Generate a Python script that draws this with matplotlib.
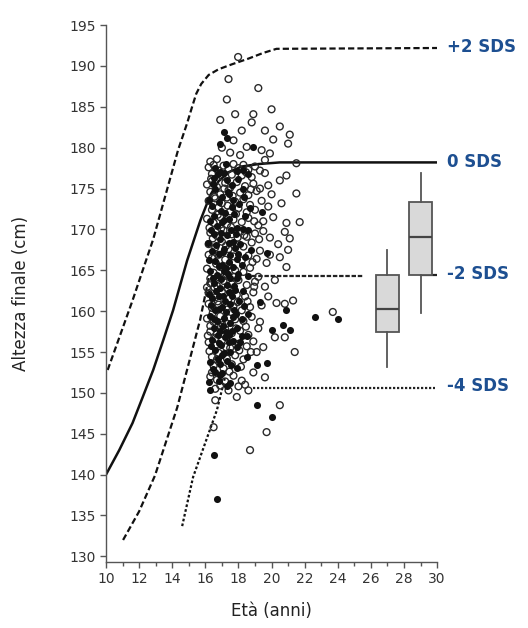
#!/usr/bin/env python

import matplotlib
matplotlib.use('Agg')
import matplotlib.pyplot as plt
import matplotlib.ticker as plticker

# reference curves (age in years, final height in cm)
PLUS2_AGE  = [10.1, 11.6, 12.85, 13.87, 14.35, 14.9, 15.2, 15.45, 15.75, 16.2, 16.8, 17.6, 18.6,
              19.5, 20.3, 30.0]
PLUS2_HGT  = [152.8, 161.3, 168.8, 176.2, 179.7, 183.0, 185.0, 186.6, 187.8, 188.9, 189.6, 190.2,
              190.9, 191.6, 192.1, 192.2]
ZERO_AGE   = [10.0, 10.8, 11.6, 12.2, 12.85, 13.45, 14.05, 14.9, 15.7, 16.3, 16.8, 17.4, 18.2,
              19.2, 20.5, 30.0]
ZERO_HGT   = [140.0, 143.0, 146.3, 149.4, 152.8, 156.4, 160.1, 166.2, 171.1, 174.2, 175.9, 177.0,
              177.7, 178.0, 178.2, 178.2]
MINUS2_AGE = [11.03, 12.0, 12.96, 14.3, 15.68, 16.3]
MINUS2_HGT = [132.0, 135.5, 139.9, 148.2, 158.9, 165.0]
MINUS2_FLAT_AGE = [18.8, 25.6]
MINUS2_FLAT_HGT = [164.3, 164.3]
MINUS4_AGE = [14.6, 15.26, 16.7, 17.2]
MINUS4_HGT = [133.7, 139.7, 147.9, 152.0]
MINUS4_FLAT_AGE = [18.9, 29.9]
MINUS4_FLAT_HGT = [150.6, 150.6]

SDS_LABELS  = ['+2 SDS', '0 SDS', '-2 SDS', '-4 SDS']
SDS_LABEL_Y = [192.3, 178.2, 164.6, 150.8]

# open circles
OPEN_PTS = [
    (17.98, 191.1), (17.4, 188.4), (19.2, 187.3), (17.3, 185.9), (20.0, 184.7), (16.9, 183.4),
    (17.8, 184.1), (18.9, 184.1), (18.8, 183.1), (19.6, 182.1), (20.5, 182.6), (21.1, 181.6),
    (21.0, 180.5), (20.1, 181.0), (18.2, 182.1), (17.7, 180.9), (18.5, 180.1), (19.4, 179.7),
    (17.5, 179.4), (18.1, 179.1), (16.7, 178.6), (16.3, 178.3), (17.0, 180.0), (19.9, 179.3),
    (21.5, 178.1), (20.5, 176.0), (21.5, 174.4), (20.9, 176.6), (20.6, 173.2), (21.7, 170.9),
    (20.9, 170.8), (20.8, 169.7), (21.1, 168.9), (21.0, 167.5), (20.5, 166.6), (20.9, 165.4),
    (20.1, 171.5), (19.9, 169.0),
    (16.2, 177.6), (16.5, 177.9), (16.8, 177.2), (17.1, 177.8), (17.4, 177.4), (17.7, 178.0),
    (18.0, 177.5), (18.3, 177.9), (18.6, 177.3), (19.0, 177.7), (19.3, 177.2), (16.4, 176.8),
    (17.0, 176.5), (17.6, 176.7), (18.2, 176.6), (18.8, 176.4), (19.6, 176.9),
    (16.1, 175.5), (16.4, 175.9), (16.7, 175.2), (17.2, 175.7), (17.5, 175.1), (17.9, 175.8),
    (18.4, 175.3), (18.9, 175.6), (19.3, 175.0), (19.8, 175.4), (16.3, 174.6), (16.9, 174.3),
    (17.4, 174.8), (18.1, 174.5), (18.6, 174.2), (19.1, 174.7),
    (16.2, 173.5), (16.6, 173.8), (17.0, 173.2), (17.3, 173.9), (17.8, 173.4), (18.3, 173.7),
    (18.7, 173.0), (19.4, 173.5), (16.4, 172.4), (16.8, 172.7), (17.5, 172.2), (18.0, 172.6),
    (18.5, 172.1), (19.0, 172.4), (19.8, 172.8),
    (16.1, 171.3), (16.5, 170.8), (16.9, 171.5), (17.3, 170.6), (17.7, 171.2), (18.2, 170.9),
    (18.6, 171.4), (19.2, 170.5), (16.3, 169.6), (16.7, 169.2), (17.1, 169.9), (17.6, 169.4),
    (18.1, 169.7), (18.5, 169.1), (19.0, 169.5), (19.5, 169.8),
    (16.2, 168.2), (16.6, 167.8), (17.0, 168.5), (17.4, 167.6), (17.9, 168.1), (18.3, 167.9),
    (18.8, 168.4), (19.3, 167.4), (16.4, 166.5), (16.8, 166.9), (17.2, 166.3), (17.7, 166.7),
    (18.2, 166.2), (18.6, 166.8), (19.1, 166.4), (19.7, 165.9),
    (16.1, 165.2), (16.5, 164.7), (16.9, 165.4), (17.3, 164.5), (17.8, 165.0), (18.3, 164.8),
    (18.7, 165.3), (19.2, 164.2), (16.3, 163.4), (16.7, 163.1), (17.1, 163.7), (17.6, 163.3),
    (18.0, 163.8), (18.5, 163.2), (19.0, 163.6), (19.6, 163.0),
    (16.2, 162.2), (16.6, 161.7), (17.0, 162.4), (17.4, 161.5), (17.9, 162.0), (18.4, 161.8),
    (18.9, 162.3), (16.4, 160.4), (16.8, 160.8), (17.3, 160.2), (17.7, 160.6), (18.2, 160.1),
    (18.7, 160.5), (19.4, 160.7),
    (16.1, 159.1), (16.5, 158.7), (16.9, 159.4), (17.3, 158.5), (17.8, 159.0), (18.3, 158.8),
    (18.8, 159.3), (16.3, 157.5), (16.7, 157.2), (17.2, 157.8), (17.6, 157.3), (18.1, 157.6),
    (18.6, 157.1), (19.2, 157.9),
    (16.2, 156.2), (16.6, 155.8), (17.0, 156.4), (17.5, 155.5), (18.0, 156.0), (18.5, 155.7),
    (16.4, 154.4), (16.8, 154.9), (17.3, 154.2), (17.8, 154.6), (18.3, 154.1), (16.5, 153.3),
    (17.1, 153.0), (17.6, 153.5),
    (16.3, 152.0), (16.7, 151.6), (17.2, 151.4), (17.7, 152.1), (18.4, 151.0), (16.6, 150.5),
    (17.4, 150.3), (18.0, 150.8),
    (16.35, 176.2), (16.55, 174.0), (16.75, 171.8), (16.95, 170.1), (16.45, 168.9), (16.65, 165.8),
    (16.85, 164.1), (16.55, 162.9), (16.75, 161.2), (16.45, 159.8), (16.95, 158.1), (16.6, 156.7),
    (17.15, 175.0), (17.35, 172.9), (17.55, 170.3), (17.25, 168.0), (17.45, 165.6), (17.15, 164.3),
    (17.35, 162.8), (17.55, 159.9), (17.05, 158.3), (17.25, 155.6), (17.65, 174.1), (17.85, 171.9),
    (17.95, 169.0), (17.75, 164.2), (17.95, 161.1), (17.85, 157.9), (18.05, 155.2), (16.25, 170.2),
    (16.2, 166.9), (16.3, 164.0), (16.2, 160.9), (16.3, 158.2), (16.25, 155.1), (16.1, 162.9),
    (16.15, 157.0),
    (18.45, 177.0), (18.75, 174.9), (18.95, 171.0), (18.85, 166.0), (18.95, 163.0), (18.55, 161.2),
    (18.45, 158.1), (18.75, 155.0), (18.15, 153.2), (17.45, 152.6), (16.9, 150.9), (18.35, 169.3),
    (19.25, 168.8),
    (19.5, 171.0), (19.9, 166.9), (20.2, 163.8), (19.8, 161.8), (20.4, 168.2), (19.3, 158.7),
    (18.9, 156.3), (19.1, 155.0), (18.9, 152.5), (18.6, 150.3), (20.0, 174.3), (19.6, 178.5),
    (23.7, 159.9), (21.3, 161.3), (20.8, 160.9), (20.3, 161.0), (20.2, 156.8), (20.8, 156.8),
    (21.4, 155.0), (19.5, 155.6), (19.6, 151.9), (20.5, 148.5), (19.7, 145.2), (18.7, 143.0),
    (16.5, 145.8), (16.6, 149.1), (17.9, 149.5), (16.4, 152.5), (18.2, 151.5), (16.7, 154.1),
]

# filled dots
FILLED_PTS = [
    (17.1, 181.9), (18.9, 180.1), (16.9, 180.5), (17.3, 181.2),
    (16.5, 176.3), (16.9, 177.0), (17.3, 176.0), (16.6, 174.9), (17.0, 174.0), (17.6, 175.4),
    (16.4, 172.9), (16.8, 173.3), (17.2, 172.0), (17.6, 172.8), (16.3, 171.0), (16.7, 170.4),
    (17.0, 170.9), (17.4, 171.3), (17.9, 170.2), (16.5, 169.5), (16.9, 168.8), (17.3, 169.3),
    (17.7, 168.5), (16.4, 167.4), (16.8, 167.0), (17.1, 167.6), (17.5, 166.9), (16.6, 166.1),
    (17.0, 165.7), (17.4, 166.0), (17.9, 166.4), (16.3, 164.9), (16.7, 164.4), (17.1, 164.9),
    (17.5, 164.1), (16.5, 163.5), (16.9, 162.8), (17.3, 163.2), (17.8, 162.6), (16.4, 161.6),
    (16.8, 161.9), (17.2, 161.3), (17.6, 161.8), (16.6, 160.1), (17.0, 160.5), (17.5, 160.9),
    (16.3, 159.4), (16.7, 158.8), (17.1, 159.2), (17.5, 158.6), (16.5, 157.9), (16.9, 157.6),
    (17.4, 157.1), (17.9, 158.0), (16.4, 156.5), (16.8, 156.1), (17.2, 156.8), (17.7, 156.3),
    (16.6, 155.2), (17.0, 154.6), (17.5, 155.0), (16.3, 153.8), (16.9, 153.5), (17.3, 153.9),
    (16.6, 152.6), (17.0, 152.4), (16.2, 151.3), (17.3, 150.9),
    (16.45, 175.6), (16.75, 176.8), (17.15, 176.9), (17.45, 174.3), (16.95, 172.2), (17.35, 174.6),
    (16.55, 171.6), (17.15, 171.1), (17.75, 171.9), (16.35, 169.9), (16.95, 169.6), (17.55, 169.9),
    (16.65, 168.1), (17.05, 167.2), (17.45, 168.3), (16.25, 166.2), (16.85, 165.5), (17.25, 165.3),
    (17.65, 165.4), (16.45, 164.1), (16.95, 163.9), (17.35, 164.6), (16.65, 162.5), (17.05, 161.9),
    (17.45, 162.3), (16.35, 160.8), (16.85, 160.3), (17.25, 159.9), (17.75, 160.2), (16.55, 159.0),
    (17.05, 158.2), (17.65, 159.3), (16.75, 157.1), (17.25, 157.5), (16.35, 155.7), (16.95, 155.9),
    (17.45, 156.2), (16.75, 154.2), (17.15, 154.9), (16.45, 152.9), (16.85, 151.5), (17.55, 153.4),
    (18.2, 159.0), (18.0, 164.6), (18.1, 168.2), (18.4, 171.6), (18.5, 156.9), (16.25, 162.1),
    (16.15, 168.4), (16.2, 173.6),
    (17.95, 176.2), (18.25, 175.0), (18.55, 176.8), (18.05, 173.1), (18.35, 174.0), (18.7, 172.6),
    (17.85, 169.4), (18.25, 170.1), (18.6, 169.9), (18.0, 167.0), (18.4, 166.6), (18.75, 167.5),
    (17.9, 164.0), (18.2, 165.6), (18.6, 164.3), (18.05, 161.3), (18.35, 160.6), (17.85, 159.6),
    (17.9, 155.6), (17.6, 157.6), (17.75, 163.1), (17.8, 167.7), (17.7, 173.6), (17.9, 177.2),
    (18.3, 177.3), (16.6, 177.5), (17.25, 178.0),
    (19.4, 172.1), (19.7, 167.1), (19.3, 161.1), (18.3, 162.5), (18.6, 159.7), (18.2, 157.0),
    (22.6, 159.3), (24.0, 159.1), (20.9, 160.1), (20.0, 157.7), (20.7, 158.3), (21.1, 157.7),
    (19.7, 153.7), (19.1, 153.4), (18.5, 154.4), (18.1, 156.2), (16.3, 150.3), (16.9, 152.2),
    (17.9, 153.1), (19.1, 148.5), (20.0, 147.1), (16.5, 142.4), (16.7, 137.0), (17.5, 151.2),
]

# box plots on the right
BOX_POS    = [27.0, 29.0]
BOX_WLO    = [153.2, 159.8]
BOX_Q1     = [157.5, 164.4]
BOX_MED    = [160.3, 169.1]
BOX_Q3     = [164.4, 173.4]
BOX_WHI    = [167.5, 176.9]

SDS_COLOR  = '#1d4f91'

figure = plt.figure(figsize=(5.28, 6.28), dpi=100)
ax = figure.add_axes([0.2008, 0.105, 0.627, 0.855])

ax.scatter([p[0] for p in OPEN_PTS], [p[1] for p in OPEN_PTS], s=24, facecolors='none',
           edgecolors='#2a2a2a', linewidths=1.0, zorder=3)
ax.scatter([p[0] for p in FILLED_PTS], [p[1] for p in FILLED_PTS], s=26, color='#111111',
           linewidths=0, zorder=4)

ax.plot(PLUS2_AGE,  PLUS2_HGT,  color='#111111', lw=1.6, dashes=(2.8, 1.4), zorder=2)
ax.plot(ZERO_AGE,   ZERO_HGT,   color='#111111', lw=1.8, zorder=2)
ax.plot(MINUS2_AGE, MINUS2_HGT, color='#111111', lw=1.6, dashes=(2.8, 1.4), zorder=2)
ax.plot(MINUS2_FLAT_AGE, MINUS2_FLAT_HGT, color='#222222', lw=1.6, dashes=(2.0, 0.8), zorder=2)
ax.plot(MINUS4_AGE, MINUS4_HGT, color='#111111', lw=1.6, dashes=(1.2, 1.0), zorder=2)
ax.plot(MINUS4_FLAT_AGE, MINUS4_FLAT_HGT, color='#222222', lw=1.6, dashes=(1.0, 0.8), zorder=2)
ax.plot([BOX_POS[1], 30.0], [BOX_Q1[1], BOX_Q1[1]], color='#222222', lw=1.6, zorder=2)

stats = []
for i in range(len(BOX_POS)):
    stats.append({'whislo': BOX_WLO[i], 'q1': BOX_Q1[i], 'med': BOX_MED[i],
                  'q3': BOX_Q3[i], 'whishi': BOX_WHI[i], 'fliers': []})

ax.bxp(stats, positions=BOX_POS, widths=1.4, patch_artist=True, showcaps=False,
       boxprops=dict(facecolor='#d9d9d9', edgecolor='#555555', linewidth=1.3),
       medianprops=dict(color='#444444', linewidth=1.6),
       whiskerprops=dict(color='#555555', linewidth=1.3), manage_ticks=False)

for label, yVal in zip(SDS_LABELS, SDS_LABEL_Y):
    ax.text(30.6, yVal, label, color=SDS_COLOR, fontsize=12, fontweight='bold',
            va='center', ha='left', clip_on=False)

ax.set_xlim(10, 30)
ax.set_ylim(129.3, 195)
ax.xaxis.set_major_locator(plticker.MultipleLocator(2))
ax.xaxis.set_minor_locator(plticker.MultipleLocator(1))
ax.yaxis.set_major_locator(plticker.MultipleLocator(5))

for side in ['top', 'right']:
    ax.spines[side].set_visible(False)
for side in ['left', 'bottom']:
    ax.spines[side].set_color('#555555')
    ax.spines[side].set_linewidth(1.0)

ax.tick_params(which='both', direction='out', color='#555555', width=1.0, labelcolor='#333333')
ax.tick_params(which='major', length=4, labelsize=10)
ax.tick_params(which='minor', length=3)

ax.set_xlabel('Età (anni)', fontsize=12, color='#222222', labelpad=11)
ax.set_ylabel('Altezza finale (cm)', fontsize=12, color='#222222', labelpad=28)

figure.savefig('out.png', dpi=100)
plt.close(figure)
